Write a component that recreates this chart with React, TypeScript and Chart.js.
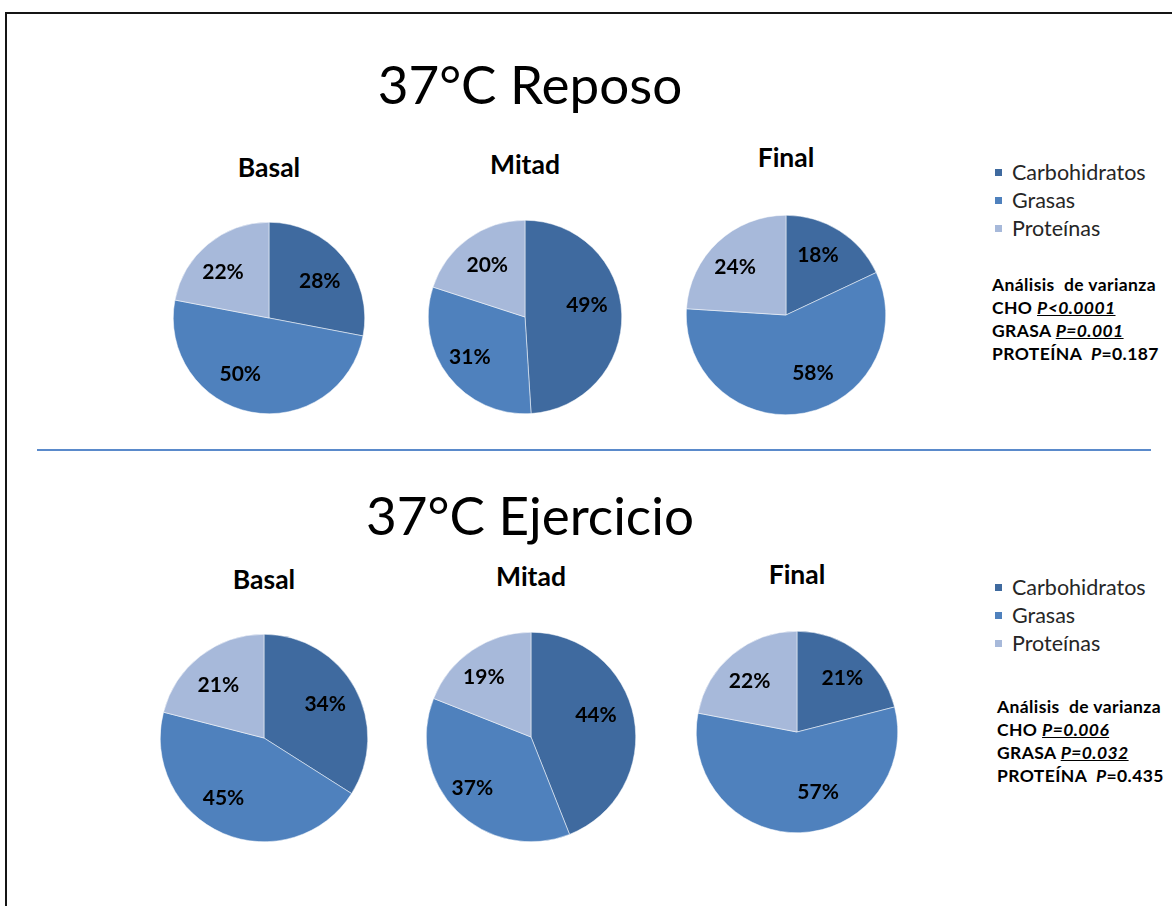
import React, { useEffect, useRef } from 'react';
import { Chart, registerables } from 'chart.js';

Chart.register(...registerables);

// ---- data ----
const SERIES = ['Carbohidratos', 'Grasas', 'Proteínas'];
const PHASES = ['Basal', 'Mitad', 'Final'];

const reposoBasal = [28, 50, 22];
const reposoMitad = [49, 31, 20];
const reposoFinal = [18, 58, 24];

const ejercicioBasal = [34, 45, 21];
const ejercicioMitad = [44, 37, 19];
const ejercicioFinal = [21, 57, 22];

const ANOVA_LABELS = ['CHO', 'GRASA', 'PROTEÍNA'];
const reposoP = ['<0.0001', '=0.001', '=0.187'];
const ejercicioP = ['=0.006', '=0.032', '=0.435'];
const reposoSignificant = [true, true, false];
const ejercicioSignificant = [true, true, false];

// ---- styles / layout ----
const SLICE_COLORS = ['#3F6A9F', '#4F81BD', '#A7B9DA'];
const FONT = 'Lato, "Open Sans", sans-serif';

type PieGeom = { cx: number; cy: number; r: number; titleY: number };

const REPOSO_GEOM: PieGeom[] = [
  { cx: 269, cy: 318, r: 96, titleY: 168 },
  { cx: 525, cy: 317, r: 97, titleY: 165 },
  { cx: 786, cy: 315, r: 100, titleY: 158 },
];
const EJERCICIO_GEOM: PieGeom[] = [
  { cx: 264, cy: 738, r: 104, titleY: 580 },
  { cx: 531, cy: 737, r: 105, titleY: 577 },
  { cx: 797, cy: 732, r: 101, titleY: 575 },
];

// label anchor for each slice, in units of the pie radius from its centre
const REPOSO_LABEL_POS = [
  [[0.53, -0.38], [-0.30, 0.59], [-0.48, -0.48]],
  [[0.64, -0.12], [-0.57, 0.42], [-0.39, -0.54]],
  [[0.32, -0.60], [0.27, 0.58], [-0.51, -0.48]],
];
const EJERCICIO_LABEL_POS = [
  [[0.59, -0.33], [-0.39, 0.58], [-0.44, -0.51]],
  [[0.62, -0.21], [-0.56, 0.49], [-0.45, -0.57]],
  [[0.45, -0.53], [0.21, 0.60], [-0.47, -0.50]],
];

const PAD = 2;

function PieChart({ values, geom, labelPos }: { values: number[]; geom: PieGeom; labelPos: number[][] }) {
  const ref = useRef<HTMLCanvasElement | null>(null);
  const size = geom.r * 2 + PAD * 2;

  useEffect(() => {
    if (!ref.current) return;
    const percentLabels = {
      id: 'percentLabels',
      afterDatasetsDraw(chart: any) {
        const { ctx } = chart;
        const meta = chart.getDatasetMeta(0);
        ctx.save();
        ctx.font = `bold 21px ${FONT}`;
        ctx.fillStyle = '#000000';
        ctx.textAlign = 'center';
        ctx.textBaseline = 'middle';
        meta.data.forEach((arc: any, i: number) => {
          const v = chart.data.datasets[0].data[i];
          const [fx, fy] = labelPos[i];
          ctx.fillText(`${v}%`, arc.x + fx * arc.outerRadius, arc.y + fy * arc.outerRadius);
        });
        ctx.restore();
      },
    };
    const chart = new Chart(ref.current, {
      type: 'pie',
      data: {
        labels: SERIES,
        datasets: [
          {
            data: values,
            backgroundColor: SLICE_COLORS,
            borderColor: '#ffffff',
            borderWidth: 0.5,
          },
        ],
      },
      options: {
        responsive: false,
        animation: false,
        layout: { padding: PAD },
        plugins: { legend: { display: false }, tooltip: { enabled: false } },
      },
      plugins: [percentLabels],
    });
    const fonts = (document as any).fonts;
    if (fonts && fonts.ready) fonts.ready.then(() => chart.update());
    return () => chart.destroy();
  }, [values, geom, labelPos]);

  return (
    <canvas
      ref={ref}
      width={size}
      height={size}
      style={{
        position: 'absolute',
        left: geom.cx - geom.r - PAD,
        top: geom.cy - geom.r - PAD,
        width: size,
        height: size,
      }}
    />
  );
}

function Legend({ x, y }: { x: number; y: number }) {
  return (
    <>
      {SERIES.map((s, i) => (
        <div key={s}>
          <div
            style={{
              position: 'absolute',
              left: x,
              top: y + i * 28 - 4,
              width: 7,
              height: 7,
              background: SLICE_COLORS[i],
            }}
          />
          <div
            style={{
              position: 'absolute',
              left: x + 17,
              top: y + i * 28 - 11.5,
              fontFamily: FONT,
              fontSize: 21.5,
              lineHeight: 1,
              color: '#262626',
              whiteSpace: 'nowrap',
            }}
          >
            {s}
          </div>
        </div>
      ))}
    </>
  );
}

function Anova({ x, y, pValues, significant }: { x: number; y: number; pValues: string[]; significant: boolean[] }) {
  const base: React.CSSProperties = {
    position: 'absolute',
    left: x,
    fontFamily: FONT,
    fontWeight: 700,
    fontSize: 17.5,
    lineHeight: 1,
    letterSpacing: 0.4,
    color: '#000',
    whiteSpace: 'pre',
  };
  return (
    <>
      <div style={{ ...base, top: y - 9.5 }}>{'Análisis  de varianza'}</div>
      {ANOVA_LABELS.map((lab, i) => {
        const gap = lab === 'PROTEÍNA' ? '  ' : ' ';
        return (
          <div key={lab} style={{ ...base, top: y + (i + 1) * 23 - 9.5 }}>
            {lab + gap}
            {significant[i] ? (
              <span style={{ fontStyle: 'italic', textDecoration: 'underline' }}>{'P' + pValues[i]}</span>
            ) : (
              <>
                <span style={{ fontStyle: 'italic' }}>P</span>
                {pValues[i]}
              </>
            )}
          </div>
        );
      })}
    </>
  );
}

function Row({
  title,
  titleY,
  series,
  geoms,
  labelPos,
}: {
  title: string;
  titleY: number;
  series: number[][];
  geoms: PieGeom[];
  labelPos: number[][][];
}) {
  return (
    <>
      <div
        style={{
          position: 'absolute',
          left: 0,
          width: 1060,
          top: titleY,
          textAlign: 'center',
          fontFamily: FONT,
          fontSize: 53,
          lineHeight: 1,
          color: '#000',
          whiteSpace: 'nowrap',
        }}
      >
        {title}
      </div>
      {geoms.map((g, i) => (
        <React.Fragment key={PHASES[i]}>
          <div
            style={{
              position: 'absolute',
              left: g.cx - 100,
              width: 200,
              top: g.titleY - 14,
              textAlign: 'center',
              fontFamily: FONT,
              fontWeight: 700,
              fontSize: 26.5,
              lineHeight: 1,
              color: '#000',
            }}
          >
            {PHASES[i]}
          </div>
          <PieChart values={series[i]} geom={g} labelPos={labelPos[i]} />
        </React.Fragment>
      ))}
    </>
  );
}

export default function App() {
  return (
    <div
      style={{
        position: 'fixed',
        left: 0,
        top: 0,
        width: 1172,
        height: 906,
        overflow: 'hidden',
        background: '#ffffff',
      }}
    >
      <div
        style={{
          position: 'absolute',
          left: 5,
          top: 12,
          width: 1300,
          height: 1000,
          borderLeft: '2px solid #151515',
          borderTop: '2px solid #151515',
        }}
      />
      <Row
        title="37°C Reposo"
        titleY={57}
        series={[reposoBasal, reposoMitad, reposoFinal]}
        geoms={REPOSO_GEOM}
        labelPos={REPOSO_LABEL_POS}
      />
      <Legend x={995} y={173} />
      <Anova x={992} y={285} pValues={reposoP} significant={reposoSignificant} />

      <div
        style={{
          position: 'absolute',
          left: 37,
          top: 449,
          width: 1114,
          height: 2,
          background: '#5A8ACB',
        }}
      />

      <Row
        title="37°C Ejercicio"
        titleY={488}
        series={[ejercicioBasal, ejercicioMitad, ejercicioFinal]}
        geoms={EJERCICIO_GEOM}
        labelPos={EJERCICIO_LABEL_POS}
      />
      <Legend x={995} y={588} />
      <Anova x={997} y={707} pValues={ejercicioP} significant={ejercicioSignificant} />
    </div>
  );
}
